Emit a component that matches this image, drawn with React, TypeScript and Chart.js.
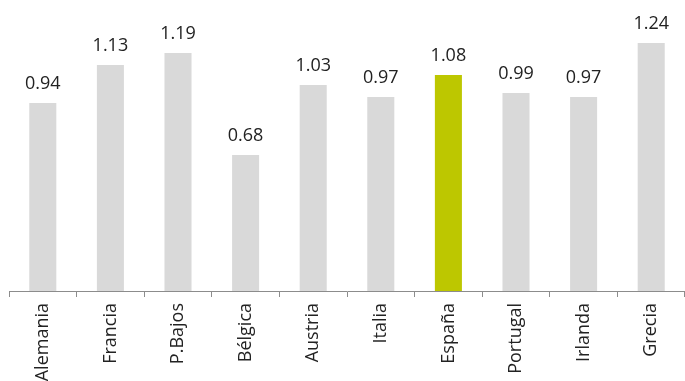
import React, { useEffect, useRef } from "react";
import { Chart, registerables } from "chart.js";

Chart.register(...registerables);

const categories = ["Alemania", "Francia", "P.Bajos", "Bélgica", "Austria", "Italia", "España", "Portugal", "Irlanda", "Grecia"];
const values = [0.94, 1.13, 1.19, 0.68, 1.03, 0.97, 1.08, 0.99, 0.97, 1.24];
const highlight = "España";

const GRAY = "#d9d9d9";
const GREEN = "#bdc700";
const FONT = "'Open Sans', sans-serif";

const valueLabels = {
  id: "valueLabels",
  afterDatasetsDraw(chart: any) {
    const ctx = chart.ctx;
    const meta = chart.getDatasetMeta(0);
    ctx.save();
    ctx.font = `18px ${FONT}`;
    ctx.fillStyle = "#222";
    ctx.textAlign = "center";
    ctx.textBaseline = "alphabetic";
    meta.data.forEach((bar: any, i: number) => {
      ctx.fillText(values[i].toFixed(2), bar.x, bar.y - 14);
    });
    ctx.restore();
  },
};

export default function App() {
  const ref = useRef<HTMLCanvasElement>(null);
  useEffect(() => {
    document.body.style.margin = "0";
    const chart = new Chart(ref.current!, {
      type: "bar",
      data: {
        labels: categories,
        datasets: [
          {
            data: values,
            backgroundColor: categories.map((c) => (c === highlight ? GREEN : GRAY)),
            barPercentage: 0.4,
            categoryPercentage: 1,
          },
        ],
      },
      options: {
        responsive: false,
        animation: false,
        layout: { padding: { left: 9, right: -2, top: 11, bottom: 0 } },
        plugins: { legend: { display: false }, tooltip: { enabled: false } },
        scales: {
          y: { display: false, min: 0, max: 1.4 },
          x: {
            offset: true,
            afterFit: (scale: any) => {
              scale.height = 90;
            },
            grid: {
              offset: true,
              drawOnChartArea: false,
              drawTicks: true,
              tickLength: 6,
              tickColor: "#8c8c8c",
              tickWidth: 1,
            },
            border: { display: true, color: "#8c8c8c", width: 1 },
            ticks: {
              minRotation: 90,
              maxRotation: 90,
              autoSkip: false,
              padding: 6,
              color: "#222",
              font: { family: FONT, size: 18 },
            },
          },
        },
      },
      plugins: [valueLabels],
    });
    return () => chart.destroy();
  }, []);
  return (
    <div style={{ width: 685, height: 381 }}>
      <canvas ref={ref} width={685} height={381} />
    </div>
  );
}
